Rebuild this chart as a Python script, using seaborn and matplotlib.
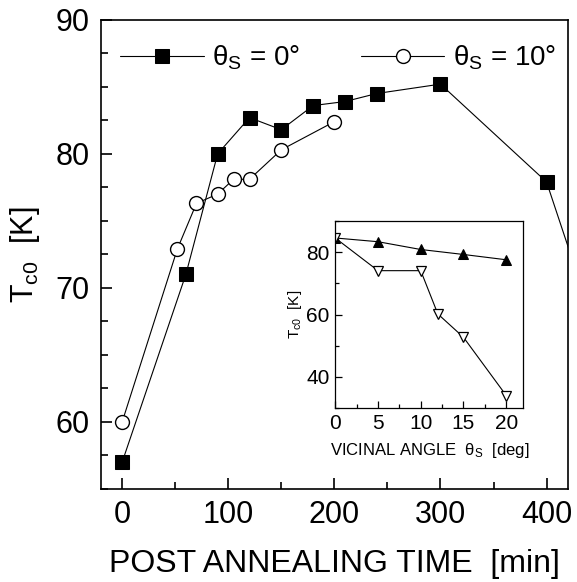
import numpy as np
import pandas as pd
import matplotlib
matplotlib.use("Agg")
import matplotlib.pyplot as plt
import seaborn as sns
from matplotlib.ticker import MultipleLocator

# main panel: Tc0 vs post annealing time
time_0deg = [0, 60, 90, 120, 150, 180, 210, 240, 300, 400, 450]
tc_0deg = [57.0, 71.0, 80.0, 82.7, 81.8, 83.6, 83.9, 84.5, 85.2, 77.9, 66.0]
time_10deg = [0, 52, 70, 90, 105, 120, 150, 200]
tc_10deg = [60.0, 72.9, 76.3, 77.0, 78.1, 78.1, 80.3, 82.4]

# inset: Tc0 vs vicinal angle
angle_filled = [0, 5, 10, 15, 20]
tc_filled = [84.6, 83.4, 80.9, 79.3, 77.6]
angle_open = [0, 5, 10, 12, 15, 20]
tc_open = [84.6, 74.1, 74.1, 60.2, 52.7, 34.0]

sns.set_style("ticks")
plt.rcParams['font.family'] = ['Liberation Sans', 'DejaVu Sans']
plt.rcParams['mathtext.fontset'] = 'custom'
plt.rcParams['mathtext.rm'] = 'Liberation Sans'
plt.rcParams['mathtext.it'] = 'Liberation Sans:italic'
for key in ['text.color', 'axes.labelcolor', 'xtick.color', 'ytick.color', 'axes.edgecolor']:
    plt.rcParams[key] = 'black'

fig = plt.figure(figsize=(5.77, 5.82), dpi=100)
ax = fig.add_axes([0.175, 0.160, 0.809, 0.806])

sns.lineplot(x=time_0deg, y=tc_0deg, ax=ax, color='black', lw=0.8,
             marker='s', markersize=10, markerfacecolor='black',
             markeredgecolor='black', label=r'$\mathregular{θ_S}$ = 0°')
sns.lineplot(x=time_10deg, y=tc_10deg, ax=ax, color='black', lw=0.8,
             marker='o', markersize=10, markerfacecolor='white',
             markeredgecolor='black', markeredgewidth=1.0,
             label=r'$\mathregular{θ_S}$ = 10°')

ax.set_xlim(-20, 420)
ax.set_ylim(55, 90)
ax.xaxis.set_major_locator(MultipleLocator(100))
ax.xaxis.set_minor_locator(MultipleLocator(50))
ax.yaxis.set_major_locator(MultipleLocator(10))
ax.yaxis.set_minor_locator(MultipleLocator(2.5))
ax.tick_params(which='both', direction='in', labelsize=22, width=1.2)
ax.tick_params(which='major', length=8, pad=8)
ax.tick_params(which='minor', length=5)
for s in ax.spines.values():
    s.set_linewidth(1.2)
    s.set_visible(True)
ax.set_xlabel('POST ANNEALING TIME  [min]', fontsize=23, labelpad=14)
ax.set_ylabel(r'T$_{\mathregular{c0}}$  [K]', fontsize=22, labelpad=10)

ax.legend(loc='upper left', bbox_to_anchor=(0.0, 0.99), ncol=2, frameon=False,
          fontsize=20, handlelength=3.0, handletextpad=0.3, columnspacing=2.2,
          borderaxespad=0.3)

# inset
axi = fig.add_axes([0.581, 0.299, 0.326, 0.321])
sns.lineplot(x=angle_filled, y=tc_filled, ax=axi, color='black', lw=0.8,
             marker='^', markersize=7, markerfacecolor='black',
             markeredgecolor='black', legend=False)
sns.lineplot(x=angle_open, y=tc_open, ax=axi, color='black', lw=0.8,
             marker='v', markersize=7, markerfacecolor='white',
             markeredgecolor='black', markeredgewidth=0.9, legend=False)
axi.set_xlim(0, 22)
axi.set_ylim(30, 90)
axi.xaxis.set_major_locator(MultipleLocator(5))
axi.xaxis.set_minor_locator(MultipleLocator(2.5))
axi.yaxis.set_major_locator(MultipleLocator(20))
axi.yaxis.set_minor_locator(MultipleLocator(10))
axi.tick_params(which='both', direction='in', labelsize=15, width=0.9)
axi.tick_params(which='major', length=5, pad=4)
axi.tick_params(which='minor', length=3)
for s in axi.spines.values():
    s.set_linewidth(0.9)
    s.set_visible(True)
axi.set_xlabel(r'VICINAL ANGLE  $\mathregular{θ_S}$  [deg]', fontsize=12, labelpad=6)
axi.set_ylabel(r'T$_{\mathregular{c0}}$  [K]', fontsize=11, labelpad=2)

fig.savefig('out.png', dpi=100)
